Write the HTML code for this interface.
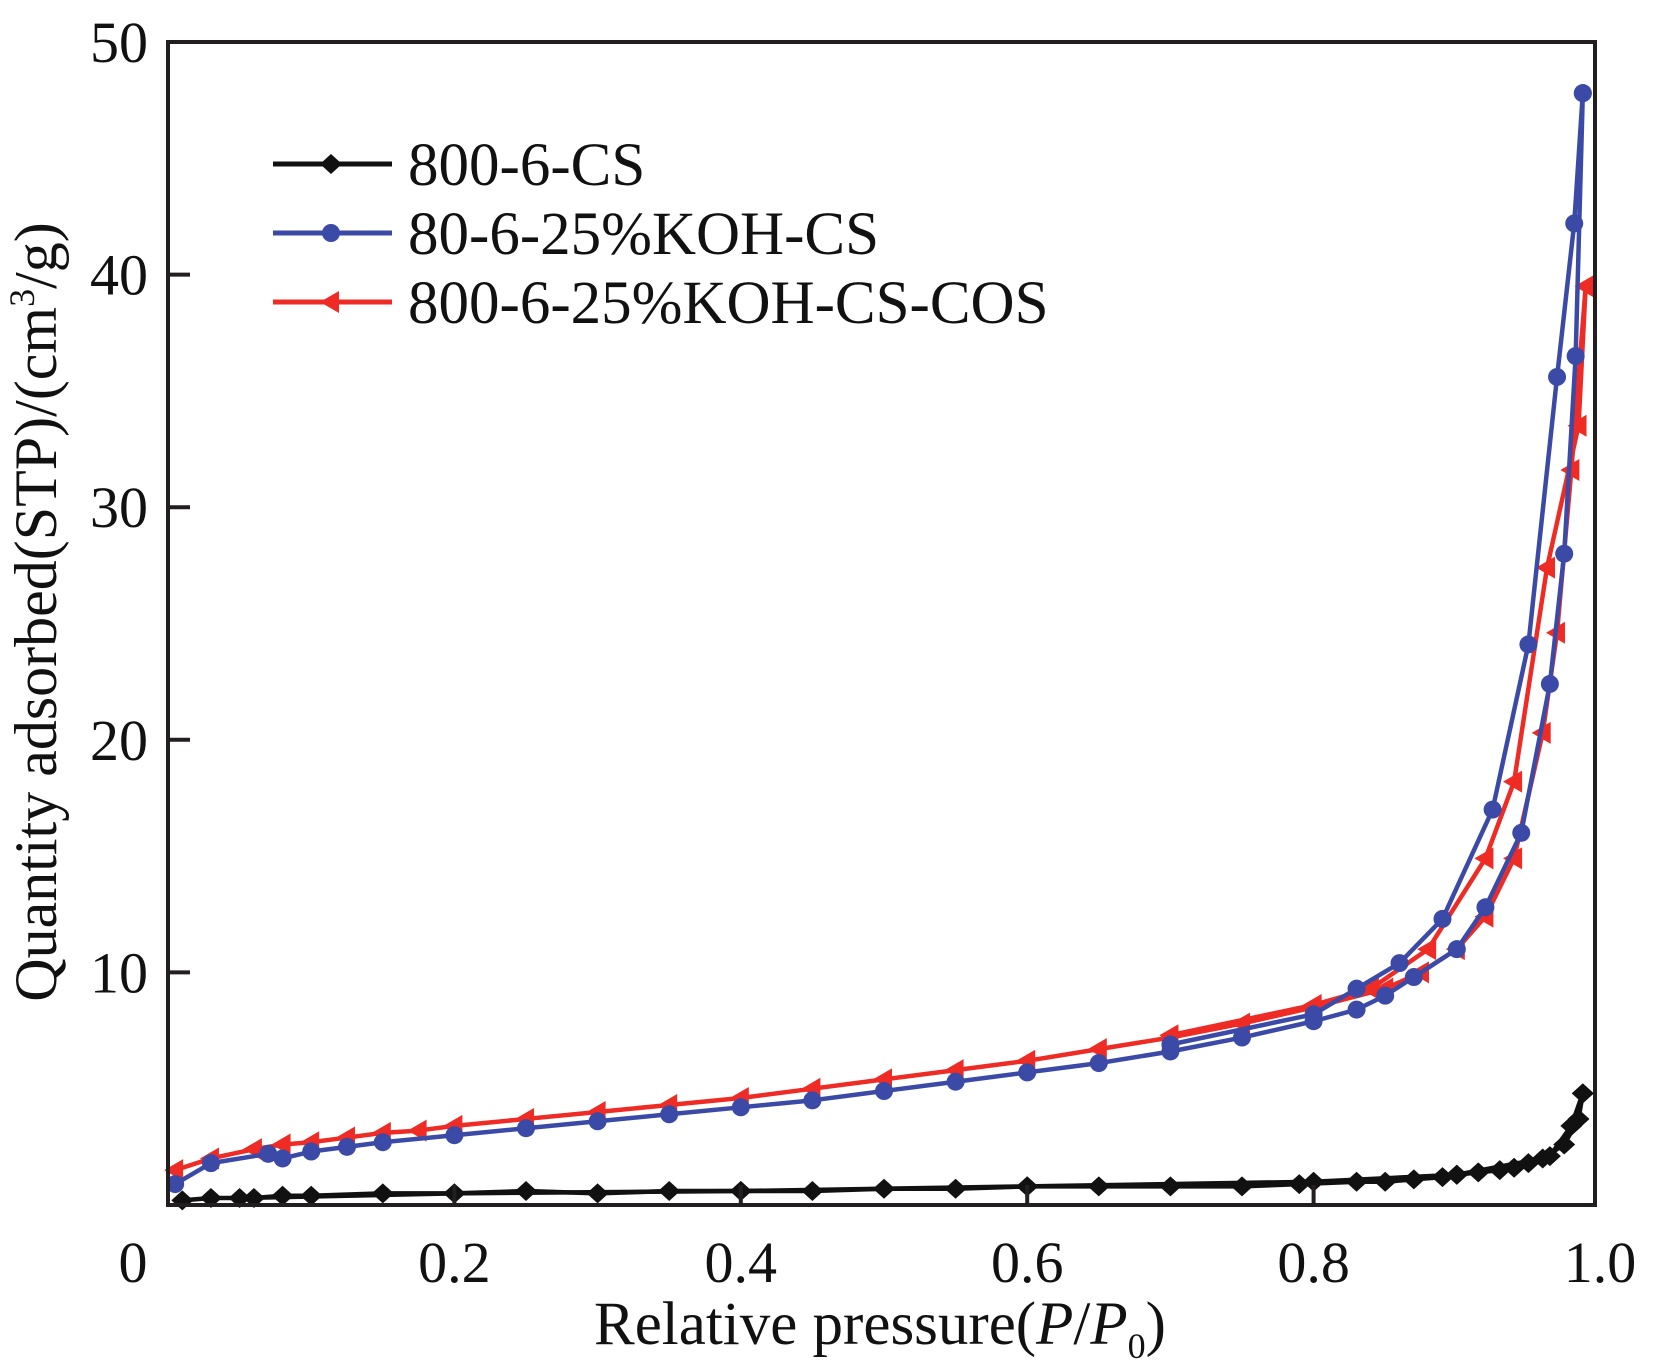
<!DOCTYPE html>
<html><head><meta charset="utf-8"><style>
html,body{margin:0;padding:0;background:#fff;}
svg{display:block;}
text{font-family:"Liberation Serif",serif;fill:#111;}
</style></head><body>
<svg id="chart" width="1654" height="1365" viewBox="0 0 1654 1365">
<g id="plot"></g>
<rect x="168" y="42" width="1427" height="1163" fill="none" stroke="#231f20" stroke-width="4"/>
<g id="axes"></g>
<text x="880" y="1344" font-size="61" text-anchor="middle">Relative pressure(<tspan font-style="italic">P</tspan>/<tspan font-style="italic">P</tspan><tspan font-size="36" dy="14">0</tspan><tspan dy="-14">)</tspan></text>
<text transform="translate(56,612) rotate(-90)" font-size="60" text-anchor="middle">Quantity adsorbed(STP)/(cm<tspan font-size="36" dy="-22">3</tspan><tspan dy="22">/g)</tspan></text>
<g id="legend"></g>
</svg>
<script>
const xTicks=[0,0.2,0.4,0.6,0.8,1.0];
const xTickLabels=["0","0.2","0.4","0.6","0.8","1.0"];
const yTicks=[10,20,30,40,50];
const yTickLabels=["10","20","30","40","50"];
const seriesNames=["800-6-CS","80-6-25%KOH-CS","800-6-25%KOH-CS-COS"];
const blackX=[0.01,0.03,0.06,0.08,0.1,0.15,0.2,0.25,0.3,0.35,0.4,0.45,0.5,0.55,0.6,0.65,0.7,0.75,0.79,0.83,0.85,0.87,0.89,0.9,0.915,0.93,0.94,0.95,0.965,0.98,0.988];
const blackY=[0.2,0.3,0.3,0.4,0.4,0.5,0.5,0.6,0.5,0.6,0.6,0.6,0.7,0.7,0.8,0.8,0.8,0.8,0.9,1.0,1.0,1.1,1.2,1.3,1.4,1.5,1.6,1.8,2.1,3.4,4.8];
const blackDesX=[0.988,0.985,0.975,0.96,0.9,0.8,0.6,0.4,0.2,0.05];
const blackDesY=[4.8,3.7,2.6,2.0,1.3,1.0,0.8,0.6,0.5,0.3];
const blueX=[0.005,0.03,0.07,0.08,0.1,0.125,0.15,0.2,0.25,0.3,0.35,0.4,0.45,0.5,0.55,0.6,0.65,0.7,0.75,0.8,0.83,0.85,0.87,0.9,0.92,0.945,0.965,0.975,0.983,0.988];
const blueY=[0.9,1.8,2.2,2.0,2.3,2.5,2.7,3.0,3.3,3.6,3.9,4.2,4.5,4.9,5.3,5.7,6.1,6.6,7.2,7.9,8.4,9.0,9.8,11.0,12.8,16.0,22.4,28.0,36.5,47.8];
const blueDesX=[0.988,0.982,0.97,0.95,0.925,0.89,0.86,0.83,0.8,0.7];
const blueDesY=[47.8,42.2,35.6,24.1,17.0,12.3,10.4,9.3,8.2,6.9];
const redX=[0.005,0.03,0.06,0.08,0.1,0.125,0.15,0.175,0.2,0.25,0.3,0.35,0.4,0.45,0.5,0.55,0.6,0.65,0.7,0.75,0.8,0.85,0.875,0.9,0.92,0.94,0.96,0.97,0.98,0.99];
const redY=[1.5,2.0,2.4,2.6,2.7,2.9,3.1,3.2,3.4,3.7,4.0,4.3,4.6,5.0,5.4,5.8,6.2,6.7,7.2,7.8,8.5,9.3,10.0,11.0,12.4,14.9,20.3,24.6,31.6,39.5];
const redDesX=[0.99,0.985,0.963,0.94,0.92,0.88,0.84,0.8,0.7];
const redDesY=[39.5,33.5,27.4,18.2,14.9,11.0,9.3,8.6,7.3];

const NS="http://www.w3.org/2000/svg";
const X0=168,X1=1600,Y0=1205,YT=42;
function sx(v){return X0+v*(X1-X0);}
function sy(v){return Y0-v/50*(Y0-YT);}
function mk(tag,attrs,parent){const e=document.createElementNS(NS,tag);for(const k in attrs)e.setAttribute(k,attrs[k]);parent.appendChild(e);return e;}
const axes=document.getElementById('axes'),plot=document.getElementById('plot'),legend=document.getElementById('legend');
xTicks.forEach((t,i)=>{
  if(i>0&&i<xTicks.length-1){const l=mk('line',{x1:sx(t),x2:sx(t),y1:Y0,y2:Y0-20,stroke:'#231f20','stroke-width':4},axes);
  
  }
  const tx=mk('text',{x:i==0?133:sx(t),y:1282,'font-size':58,'text-anchor':'middle'},axes);tx.textContent=xTickLabels[i];
  
  
});
yTicks.forEach((t,i)=>{
  if(t<50){const l=mk('line',{x1:X0,x2:X0+22,y1:sy(t),y2:sy(t),stroke:'#231f20','stroke-width':4},axes);
  
  }
  const tx=mk('text',{x:148,y:sy(t)+20,'font-size':58,'text-anchor':'end'},axes);tx.textContent=yTickLabels[i];
  
  
});
function marker(kind,x,y,color,g){
  if(kind==='diamond')return mk('polygon',{points:`${x},${y-10} ${x+11},${y} ${x},${y+10} ${x-11},${y}`,fill:color},g);
  if(kind==='circle')return mk('circle',{cx:x,cy:y,r:9,fill:color},g);
  return mk('polygon',{points:`${x-11},${y} ${x+8},${y-11} ${x+8},${y+11}`,fill:color},g);
}
function series(xs,ys,color,kind,name){
  const g=mk('g',{},plot);
  
  
  const pts=xs.map((x,i)=>sx(x)+','+sy(ys[i])).join(' ');
  const pl=mk('polyline',{points:pts,fill:'none',stroke:color,'stroke-width':4.5,'stroke-linejoin':'round'},g);
  
  
  xs.forEach((x,i)=>{const m=marker(kind,sx(x),sy(ys[i]),color,g);
    
    });
}
series(blackX,blackY,'#111','diamond','series-800-6-cs-adsorption');
series(blackDesX,blackDesY,'#111','diamond','series-800-6-cs-desorption');
series(redX,redY,'#ee2b25','tri','series-koh-cs-cos-adsorption');
series(redDesX,redDesY,'#ee2b25','tri','series-koh-cs-cos-desorption');
series(blueX,blueY,'#3b4aa6','circle','series-koh-cs-adsorption');
series(blueDesX,blueDesY,'#3b4aa6','circle','series-koh-cs-desorption');
const lcolors=['#111','#3b4aa6','#ee2b25'],lkinds=['diamond','circle','tri'];
seriesNames.forEach((n,i)=>{
  const y=164+i*69;
  const g=mk('g',{},legend);
  
  
  mk('line',{x1:273,x2:392,y1:y,y2:y,stroke:lcolors[i],'stroke-width':5},g);
  marker(lkinds[i],331,y,lcolors[i],g);
  const t=mk('text',{x:408,y:y+21,'font-size':61},g);t.textContent=n;
});
</script>
</body></html>
